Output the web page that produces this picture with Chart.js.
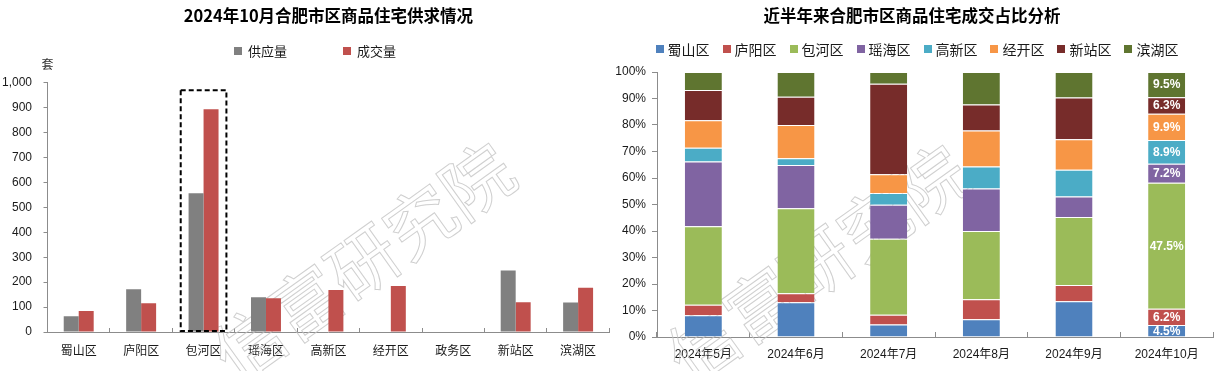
<!DOCTYPE html>
<html>
<head>
<meta charset="utf-8">
<script src="https://cdn.jsdelivr.net/npm/chart.js@4.4.1/dist/chart.umd.min.js"></script>
<style>
  html, body { margin: 0; padding: 0; background: #fff; }
  #wrap { position: relative; width: 1222px; height: 371px; overflow: hidden; }
  #c1 { position: absolute; left: 0; top: 0; }
  #c2 { position: absolute; left: 611px; top: 0; }
</style>
</head>
<body>
<div id="wrap">
  <canvas id="c1" width="611" height="371"></canvas>
  <canvas id="c2" width="611" height="371"></canvas>
</div>
<script>
// ---------------- DATA ----------------
const leftTitle = '2024年10月合肥市区商品住宅供求情况';
const districts = ['蜀山区', '庐阳区', '包河区', '瑶海区', '高新区', '经开区', '政务区', '新站区', '滨湖区'];
const supplyLabel = '供应量';
const dealLabel = '成交量';
const supply = [63, 171, 557, 139, 0, 0, 0, 247, 118];
const deals = [84, 115, 894, 135, 168, 185, 0, 119, 177];
const unitLabel = '套';
const highlightDistrict = '包河区';

const rightTitle = '近半年来合肥市区商品住宅成交占比分析';
const months = ['2024年5月', '2024年6月', '2024年7月', '2024年8月', '2024年9月', '2024年10月'];
const shareDistricts = ['蜀山区', '庐阳区', '包河区', '瑶海区', '高新区', '经开区', '新站区', '滨湖区'];
const shareShushan = [8.2, 13.1, 4.7, 6.7, 13.5, 4.5];
const shareLuyang  = [4.0, 3.4, 3.7, 7.5, 6.1, 6.2];
const shareBaohe   = [29.6, 32.1, 28.7, 25.8, 25.7, 47.5];
const shareYaohai  = [24.4, 16.3, 12.8, 16.0, 7.7, 7.2];
const shareGaoxin  = [5.2, 2.6, 4.4, 8.3, 10.1, 8.9];
const shareJingkai = [10.4, 12.5, 7.1, 13.6, 11.5, 9.9];
const shareXinzhan = [11.4, 10.7, 34.2, 9.8, 15.8, 6.3];
const shareBinhu   = [6.8, 9.3, 4.4, 12.3, 9.6, 9.5];
const watermarkText = '信富研究院';

// ---------------- STYLE ----------------
const FONT = "'Liberation Sans', 'Noto Sans CJK SC', sans-serif";
const CJK = "'Noto Sans CJK SC', 'Liberation Sans', sans-serif";
const AXIS = '#8c8c8c';
const TXT = '#1a1a1a';
const shareColors = ['#4F81BD', '#C0504D', '#9BBB59', '#8064A2', '#4BACC6', '#F79646', '#772C2A', '#5F7530'];
const shareSeries = [shareShushan, shareLuyang, shareBaohe, shareYaohai, shareGaoxin, shareJingkai, shareXinzhan, shareBinhu];

Chart.defaults.animation = false;
Chart.defaults.font.family = FONT;

function drawLegend(chart, cx, cy, gap, fontSize, textGap) {
  const ctx = chart.ctx;
  const items = chart.data.datasets.map(d => ({ text: d.label, color: d.backgroundColor }));
  ctx.save();
  ctx.font = fontSize + 'px ' + CJK;
  const box = 8;
  const widths = items.map(it => box + textGap + ctx.measureText(it.text).width);
  const total = widths.reduce((a, b) => a + b, 0) + gap * (items.length - 1);
  let x = cx - total / 2;
  ctx.textBaseline = 'middle';
  ctx.textAlign = 'left';
  items.forEach((it, i) => {
    ctx.fillStyle = it.color;
    ctx.fillRect(Math.round(x), Math.round(cy - box / 2), box, box);
    ctx.fillStyle = TXT;
    ctx.fillText(it.text, x + box + textGap, cy + 0.5);
    x += widths[i] + gap;
  });
  ctx.restore();
}

function drawWatermark(ctx, x, y) {
  ctx.save();
  ctx.translate(x, y);
  ctx.rotate(-35.6 * Math.PI / 180);
  ctx.font = '70px ' + CJK;
  ctx.textAlign = 'center';
  ctx.textBaseline = 'middle';
  ctx.lineWidth = 1;
  ctx.strokeStyle = 'rgba(195,195,195,0.8)';
  ctx.strokeText(watermarkText, 0, 0);
  ctx.restore();
}

// ---------------- LEFT CHART ----------------
const leftPlugin = {
  id: 'leftDecor',
  beforeDatasetsDraw(chart) {
    drawWatermark(chart.ctx, 363, 262);
  },
  afterDatasetsDraw(chart) {
    const ctx = chart.ctx;
    const xs = chart.scales.x, ys = chart.scales.y;
    const idx = districts.indexOf(highlightDistrict);
    const cx = xs.getPixelForValue(idx);
    const half = xs.width / districts.length * 0.366;
    const top = ys.getPixelForValue(970);
    ctx.save();
    ctx.setLineDash([5, 3]);
    ctx.lineWidth = 2;
    ctx.strokeStyle = '#000';
    ctx.strokeRect(cx - half, top, 2 * half, ys.bottom - top - 1);
    ctx.restore();
    ctx.save();
    ctx.font = '12px ' + CJK;
    ctx.fillStyle = '#333';
    ctx.textAlign = 'center';
    ctx.textBaseline = 'middle';
    ctx.fillText(unitLabel, chart.chartArea.left, 64);
    ctx.restore();
  },
  afterDraw(chart) {
    drawLegend(chart, 315, 50.5, 56, 13, 6);
  }
};

new Chart(document.getElementById('c1'), {
  type: 'bar',
  data: {
    labels: districts,
    datasets: [
      { label: supplyLabel, data: supply, backgroundColor: '#808080', barPercentage: 1, categoryPercentage: 0.48 },
      { label: dealLabel, data: deals, backgroundColor: '#C0504D', barPercentage: 1, categoryPercentage: 0.48 }
    ]
  },
  options: {
    responsive: false,
    layout: { padding: { left: 0, right: 1, top: 0, bottom: 0 } },
    plugins: {
      legend: { display: false },
      tooltip: { enabled: false },
      title: {
        display: true, text: leftTitle, color: '#000', fullSize: false,
        font: { size: 16.5, weight: 'bold', family: CJK, lineHeight: 1.2 },
        padding: { top: 6.1, bottom: 56.8 }
      }
    },
    scales: {
      x: {
        grid: { display: true, drawOnChartArea: false, drawTicks: true, tickLength: -4, color: AXIS, offset: true },
        border: { display: true, color: AXIS, width: 1 },
        ticks: { font: { size: 12, family: CJK }, color: TXT, padding: 14.8, maxRotation: 0, autoSkip: false },
        afterFit(s) { s.height = 39; }
      },
      y: {
        min: 0, max: 1000,
        grid: { drawOnChartArea: false, drawTicks: true, tickLength: 4, color: AXIS },
        border: { display: true, color: AXIS, width: 1 },
        ticks: {
          stepSize: 100, padding: 11.5, color: TXT, font: { size: 12, family: FONT },
          callback: v => Number(v).toLocaleString('en-US')
        },
        afterFit(s) { s.width = 47.5; }
      }
    }
  },
  plugins: [leftPlugin]
});

// ---------------- RIGHT CHART ----------------
const rightPlugin = {
  id: 'rightDecor',
  beforeDatasetsDraw(chart) {
    drawWatermark(chart.ctx, 206, 264);
  },
  afterDatasetsDraw(chart) {
    const ctx = chart.ctx;
    const last = months.length - 1;
    ctx.save();
    ctx.font = 'bold 12px ' + FONT;
    ctx.fillStyle = '#fff';
    ctx.textAlign = 'center';
    ctx.textBaseline = 'middle';
    chart.data.datasets.forEach((ds, i) => {
      const el = chart.getDatasetMeta(i).data[last];
      if (!el) return;
      const p = el.getProps(['x', 'y', 'base'], true);
      ctx.fillText(ds.data[last].toFixed(1) + '%', p.x, (p.y + p.base) / 2 + 0.5);
    });
    ctx.restore();
  },
  afterDraw(chart) {
    drawLegend(chart, 306, 49, 13, 14, 4);
  }
};

new Chart(document.getElementById('c2'), {
  type: 'bar',
  data: {
    labels: months,
    datasets: shareDistricts.map((name, i) => ({
      label: name,
      data: shareSeries[i],
      backgroundColor: shareColors[i],
      borderColor: 'rgba(255,255,255,0.55)',
      borderWidth: { top: 1, bottom: 0, left: 0, right: 0 },
      borderSkipped: false,
      barPercentage: 0.4,
      categoryPercentage: 1
    }))
  },
  options: {
    responsive: false,
    layout: { padding: { left: 0, right: 9, top: 0, bottom: 0 } },
    plugins: {
      legend: { display: false },
      tooltip: { enabled: false },
      title: {
        display: true, text: rightTitle, color: '#000', fullSize: true,
        font: { size: 16.5, weight: 'bold', family: CJK, lineHeight: 1.2 },
        padding: { top: 6.1, bottom: 46.1 }
      }
    },
    scales: {
      x: {
        stacked: true,
        grid: { display: true, drawOnChartArea: false, drawTicks: true, tickLength: -5, color: AXIS, offset: true },
        border: { display: true, color: AXIS, width: 1 },
        ticks: { font: { size: 12, family: FONT }, color: TXT, padding: 15.8, maxRotation: 0, autoSkip: false },
        afterFit(s) { s.height = 34; }
      },
      y: {
        stacked: true, min: 0, max: 100,
        grid: { drawOnChartArea: false, drawTicks: true, tickLength: 5, color: AXIS },
        border: { display: true, color: AXIS, width: 1 },
        ticks: {
          stepSize: 10, padding: 6, color: TXT, font: { size: 12, family: FONT },
          callback: v => v + '%'
        },
        afterFit(s) { s.width = 46; }
      }
    }
  },
  plugins: [rightPlugin]
});
</script>
</body>
</html>
